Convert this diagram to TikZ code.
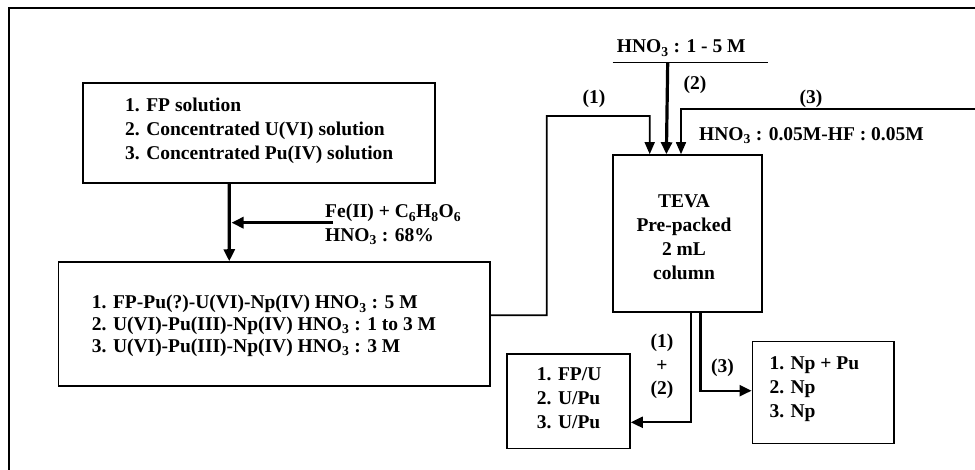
\documentclass[tikz,border=0pt]{standalone}
\usepackage{fontspec}
\setmainfont{Liberation Serif}
\usetikzlibrary{arrows.meta}
\tikzset{
  frameline/.style={line width=2pt, line cap=rect},
  box/.style={draw, line width=1.6pt, inner sep=0pt},
  txt/.style={font=\fontsize{19.5}{24}\selectfont\bfseries, inner sep=0pt, align=left},
  txtb/.style={font=\fontsize{19.5}{21.7}\selectfont\bfseries, inner sep=0pt, align=left},
  ctxt/.style={font=\fontsize{19.5}{24}\selectfont\bfseries, inner sep=0pt, align=center},
  bigarrow/.style={line width=3.2pt, -{Triangle[length=12pt,width=11pt]}},
  smallarrow/.style={line width=1.6pt, -{Triangle[length=12pt,width=10pt]}},
  midarrow/.style={line width=2.2pt, -{Triangle[length=12pt,width=11pt]}},
  plainline/.style={line width=1.6pt}
}
\begin{document}
\begin{tikzpicture}[x=1pt,y=-1pt]
\useasboundingbox (0,0) rectangle (975,470);
\draw[frameline] (8.5,470) -- (8.5,8.5) -- (975,8.5);

% boxes
\node[box, minimum width=352pt, minimum height=100pt] (b1) at (259,133) {};
\node[txt, anchor=west] (t1) at (125,131) {1. FP solution\\2. Concentrated U(VI) solution\\3. Concentrated Pu(IV) solution};

\node[box, minimum width=431.7pt, minimum height=123.7pt] (b2) at (274.2,323.9) {};
\node[txtb, anchor=west] (t2) at (91.7,326) {1. FP-Pu(?)-U(VI)-Np(IV) HNO\textsubscript{3} : 5 M\\2. U(VI)-Pu(III)-Np(IV) HNO\textsubscript{3} : 1 to 3 M\\3. U(VI)-Pu(III)-Np(IV) HNO\textsubscript{3} : 3 M};

\node[box, minimum width=149pt, minimum height=157pt] (teva) at (687.5,233.5) {};
\node[ctxt] (tt) at (684,237) {TEVA\\Pre-packed\\2 mL\\column};

\node[box, minimum width=123pt, minimum height=94.3pt] (fpu) at (568.5,401.2) {};
\node[txt, anchor=west] (tf) at (536.7,398) {1. FP/U\\2. U/Pu\\3. U/Pu};

\node[box, minimum width=141.7pt, minimum height=101.8pt] (np) at (823.2,392.6) {};
\node[txt, anchor=west] (tn) at (769.3,389) {1. Np + Pu\\2. Np\\3. Np};

% left side arrows
\draw[bigarrow] ([xshift=147pt]b1.south west) -- ([xshift=171.7pt]b2.north west);
\coordinate (fe) at (333,222.7);
\coordinate (feend) at (230,222.7);
\draw[bigarrow] (fe) -- ([xshift=1.5pt]feend);
\node[txt, anchor=base west] (fe1) at (325,218) {Fe(II) + C\textsubscript{6}H\textsubscript{8}O\textsubscript{6}};
\node[txt, anchor=base west] (fe2) at (325,241.7) {HNO\textsubscript{3} : 68\%};

% feed (1)
\draw[smallarrow] ([yshift=8.6pt]b2.east) -- (546.7,315.3) -- (546.7,116) -| ([xshift=37.5pt]teva.north west);
\node[txt] (l1) at (594,99) {(1)};

% feed (2)
\coordinate (hl) at (612.7,62.7);
\coordinate (hr) at (767.7,62.7);
\coordinate (h2) at (667.7,62.7);
\draw[plainline] (hl) -- (hr);
\draw[bigarrow] (h2) -- ([xshift=54.2pt]teva.north west);
\node[txt, anchor=base] (hno1) at (681.3,53) {HNO\textsubscript{3} : 1 - 5 M};
\node[txt] (l2) at (695,85) {(2)};

% feed (3)
\coordinate (r3) at (975,109.3);
\draw[smallarrow] (r3) -| ([xshift=68.8pt]teva.north west);
\node[txt] (l3) at (811,99) {(3)};
\node[txt, anchor=west] (hno2) at (699,136) {HNO\textsubscript{3} : 0.05M-HF : 0.05M};

% outputs
\draw[midarrow] ([xshift=78.8pt]teva.south west) |- ([yshift=-21.1pt]fpu.east);
\draw[midarrow] ([xshift=88.2pt]teva.south west) |- ([yshift=1.9pt]np.west);
\node[txt] (o1) at (662,342.7) {(1)};
\node[txt] (op) at (662,366) {+};
\node[txt] (o2) at (662,390) {(2)};
\node[txt] (o3) at (722.5,368.3) {(3)};
\end{tikzpicture}
\end{document}
